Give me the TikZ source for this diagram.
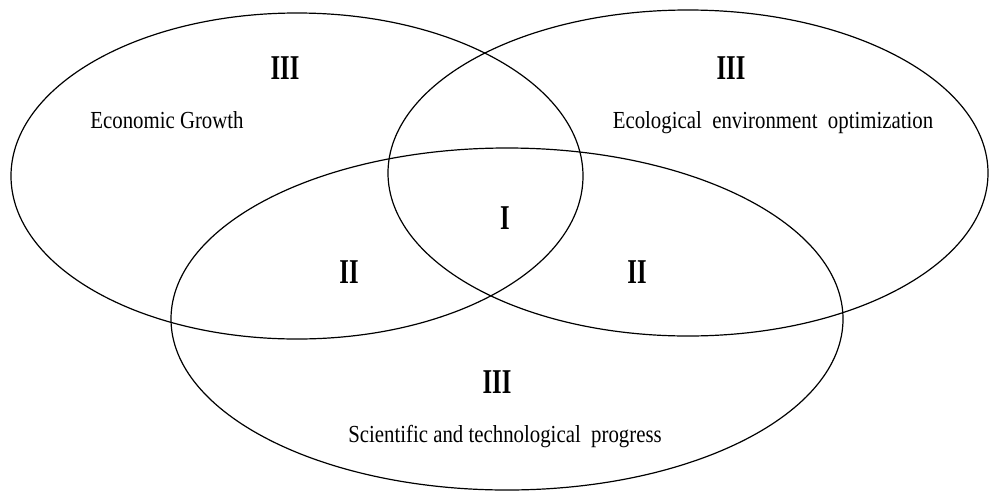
\documentclass[tikz,border=0pt]{standalone}
\usepackage{fontspec}
\setmainfont{Liberation Serif}
\usetikzlibrary{positioning}
\tikzset{
  setring/.style={draw,line width=1.2pt},
  romannum/.style={inner sep=0pt,font=\fontsize{29}{30}\selectfont\bfseries},
  setname/.style={inner sep=0pt,font=\fontsize{24.5}{28}\selectfont}
}

\begin{document}
\begin{tikzpicture}[x=1pt,y=-1pt]
  \useasboundingbox (0,0) rectangle (992,493);
  % the three sets
  \draw[setring] (297,176) ellipse [x radius=286, y radius=163];
  \draw[setring] (688,173) ellipse [x radius=300, y radius=163];
  \draw[setring] (507,319) ellipse [x radius=336, y radius=171];
  % region marks
  \node[romannum] (econ3) at (285,68) {\scalebox{0.85}[1.2]{III}};
  \node[romannum] (eco3) at (731,68) {\scalebox{0.85}[1.2]{III}};
  \node[romannum] (sci3) at (497,382) {\scalebox{0.85}[1.2]{III}};
  \node[romannum] (core) at (505,218) {\scalebox{0.85}[1.2]{I}};
  \node[romannum] (left2) at (349,272) {\scalebox{0.85}[1.2]{II}};
  \node[romannum] (right2) at (637,272) {\scalebox{0.85}[1.2]{II}};
  % set names
  \node[setname] (econ) at (167,120) {\scalebox{0.85}[1]{Economic Growth}};
  \node[setname] (eco) at (773,123) {\scalebox{0.85}[1]{Ecological\ \ environment\ \ optimization}};
  \node[setname] (sci) at (505,437) {\scalebox{0.85}[1]{Scientific and technological\ \ progress}};
\end{tikzpicture}
\end{document}
